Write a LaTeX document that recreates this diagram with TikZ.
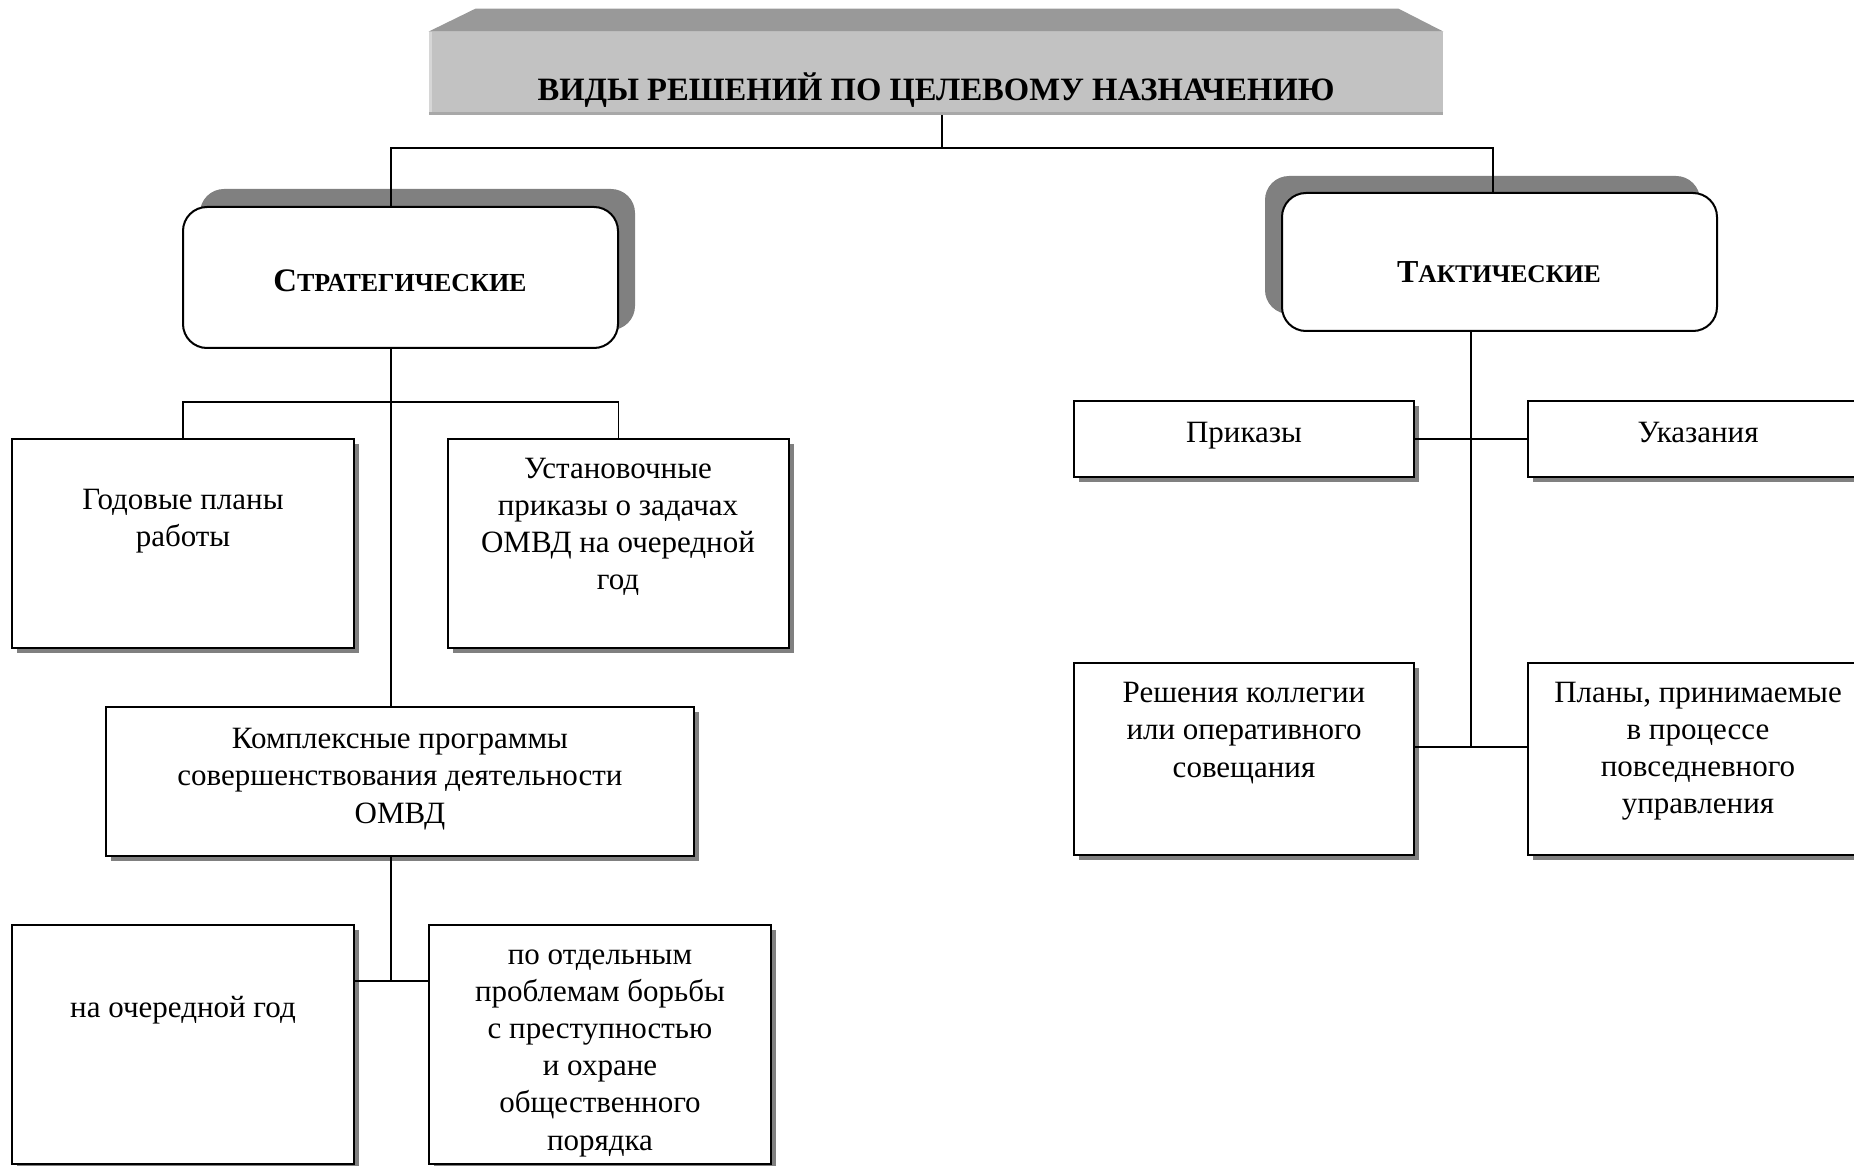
\documentclass[tikz,border=0pt]{standalone}
\usepackage{fontspec}
\setmainfont{Liberation Serif}
\usetikzlibrary{calc,shadows}

\tikzset{
  box/.style={draw, line width=1pt, fill=white, inner sep=0pt,
    drop shadow={shadow xshift=2.4pt, shadow yshift=-2.4pt, fill=black!50, opacity=1}},
  rbox/.style={draw, line width=1pt, fill=white, rounded corners=12pt, inner sep=0pt,
    minimum width=217.5pt},
  lbl/.style={align=center, inner sep=0pt, font=\fontsize{15.5}{18.6}\selectfont},
  conn/.style={line width=0.8pt},
}

\begin{document}
\begin{tikzpicture}[x=0.5pt, y=-0.5pt]
  \clip (0,0) rectangle (1854,1166);
  \fill[white] (0,0) rectangle (1854,1166);

  %--- Title banner ---
  \node[fill=black!24, minimum width=507pt, minimum height=41.5pt, inner sep=0pt] (title) at (936,73.5) {};
  \fill[black!40] (title.north west) -- ++(47,-23) -- ($(title.north east)+(-45,-23)$) -- (title.north east) -- cycle;
  \fill[black!16] (title.north west) rectangle ($(title.south west)+(3,0)$);
  \fill[black!34] ($(title.south west)+(0,-3)$) rectangle (title.south east);
  \node[font=\bfseries\fontsize{16.3}{20}\selectfont] (titleT) at (936,90) {ВИДЫ РЕШЕНИЙ ПО ЦЕЛЕВОМУ НАЗНАЧЕНИЮ};

  %--- Two main groups ---
  \node[rbox, minimum height=70.5pt,
    drop shadow={shadow xshift=8.5pt, shadow yshift=9pt, fill=black!50, opacity=1}] (strat) at (400.5,277.5) {};
  \node[font=\bfseries] (stratT) at (400,281) {\fontsize{16.4}{19}\selectfont С\fontsize{13}{15}\selectfont ТРАТЕГИЧЕСКИЕ};
  \node[rbox, minimum height=69pt,
    drop shadow={shadow xshift=-8.5pt, shadow yshift=8.5pt, fill=black!50, opacity=1}] (takt) at (1499.5,262) {};
  \node[font=\bfseries] (taktT) at (1499,272) {\fontsize{16}{19}\selectfont Т\fontsize{12.7}{15}\selectfont АКТИЧЕСКИЕ};

  %--- Strategic decisions ---
  \node[box, minimum width=171pt, minimum height=104.5pt] (god) at (183,543.5) {};
  \node[lbl] (godT) at (183,521) {Годовые планы\\работы};
  \node[box, minimum width=170.5pt, minimum height=104.5pt] (ust) at (618.5,543.5) {};
  \node[lbl] (ustT) at (618,527) {Установочные\\приказы о задачах\\ОМВД на очередной\\год};
  \node[box, minimum width=294pt, minimum height=74.5pt] (kompl) at (400,781.5) {};
  \node[lbl] (komplT) at (400,779) {Комплексные программы\\совершенствования деятельности\\ОМВД};
  \node[box, minimum width=171pt, minimum height=119.5pt] (ocher) at (183,1044.5) {};
  \node[lbl] (ocherT) at (183,1010) {на очередной год};
  \node[box, minimum width=171pt, minimum height=119.5pt] (otdel) at (600,1044.5) {};
  \node[lbl] (otdelT) at (600,1053) {по отдельным\\проблемам борьбы\\с преступностью\\и охране\\общественного\\порядка};

  %--- Tactical decisions ---
  \node[box, minimum width=170pt, minimum height=38pt] (prik) at (1244,439) {};
  \node[lbl] (prikT) at (1244,436) {Приказы};
  \node[box, minimum width=170pt, minimum height=38pt] (ukaz) at (1698,439) {};
  \node[lbl] (ukazT) at (1698,433) {Указания};
  \node[box, minimum width=170pt, minimum height=96pt] (resh) at (1244,759) {};
  \node[lbl] (reshT) at (1244,733) {Решения коллегии\\или оперативного\\совещания};
  \node[box, minimum width=170pt, minimum height=96pt] (plany) at (1698,759) {};
  \node[lbl] (planyT) at (1698,751) {Планы, принимаемые\\в процессе\\повседневного\\управления};

  %--- Connectors ---
  \coordinate (top) at (942,148);
  \coordinate (sL) at (391,148);
  \coordinate (tR) at (1493,148);
  \coordinate (brL) at (391,402);
  \coordinate (brB) at (391,981);
  \coordinate (tT) at (1471,747);
  \draw[conn] (title.south -| top) -- (top);
  \draw[conn] (sL |- strat.north) -- (sL) -- (tR) -- (tR |- takt.north);
  \draw[conn] (strat.south -| sL) -- (kompl.north -| sL);
  \draw[conn] (god.north) |- (ust.north |- brL) -- (ust.north);
  \draw[conn] (kompl.south -| brB) -- (brB);
  \draw[conn] (ocher.east |- brB) -- (otdel.west |- brB);
  \draw[conn] (takt.south -| tT) -- (tT);
  \draw[conn] (prik.east) -- (ukaz.west);
  \draw[conn] (resh.east |- tT) -- (plany.west |- tT);

\end{tikzpicture}
\end{document}
